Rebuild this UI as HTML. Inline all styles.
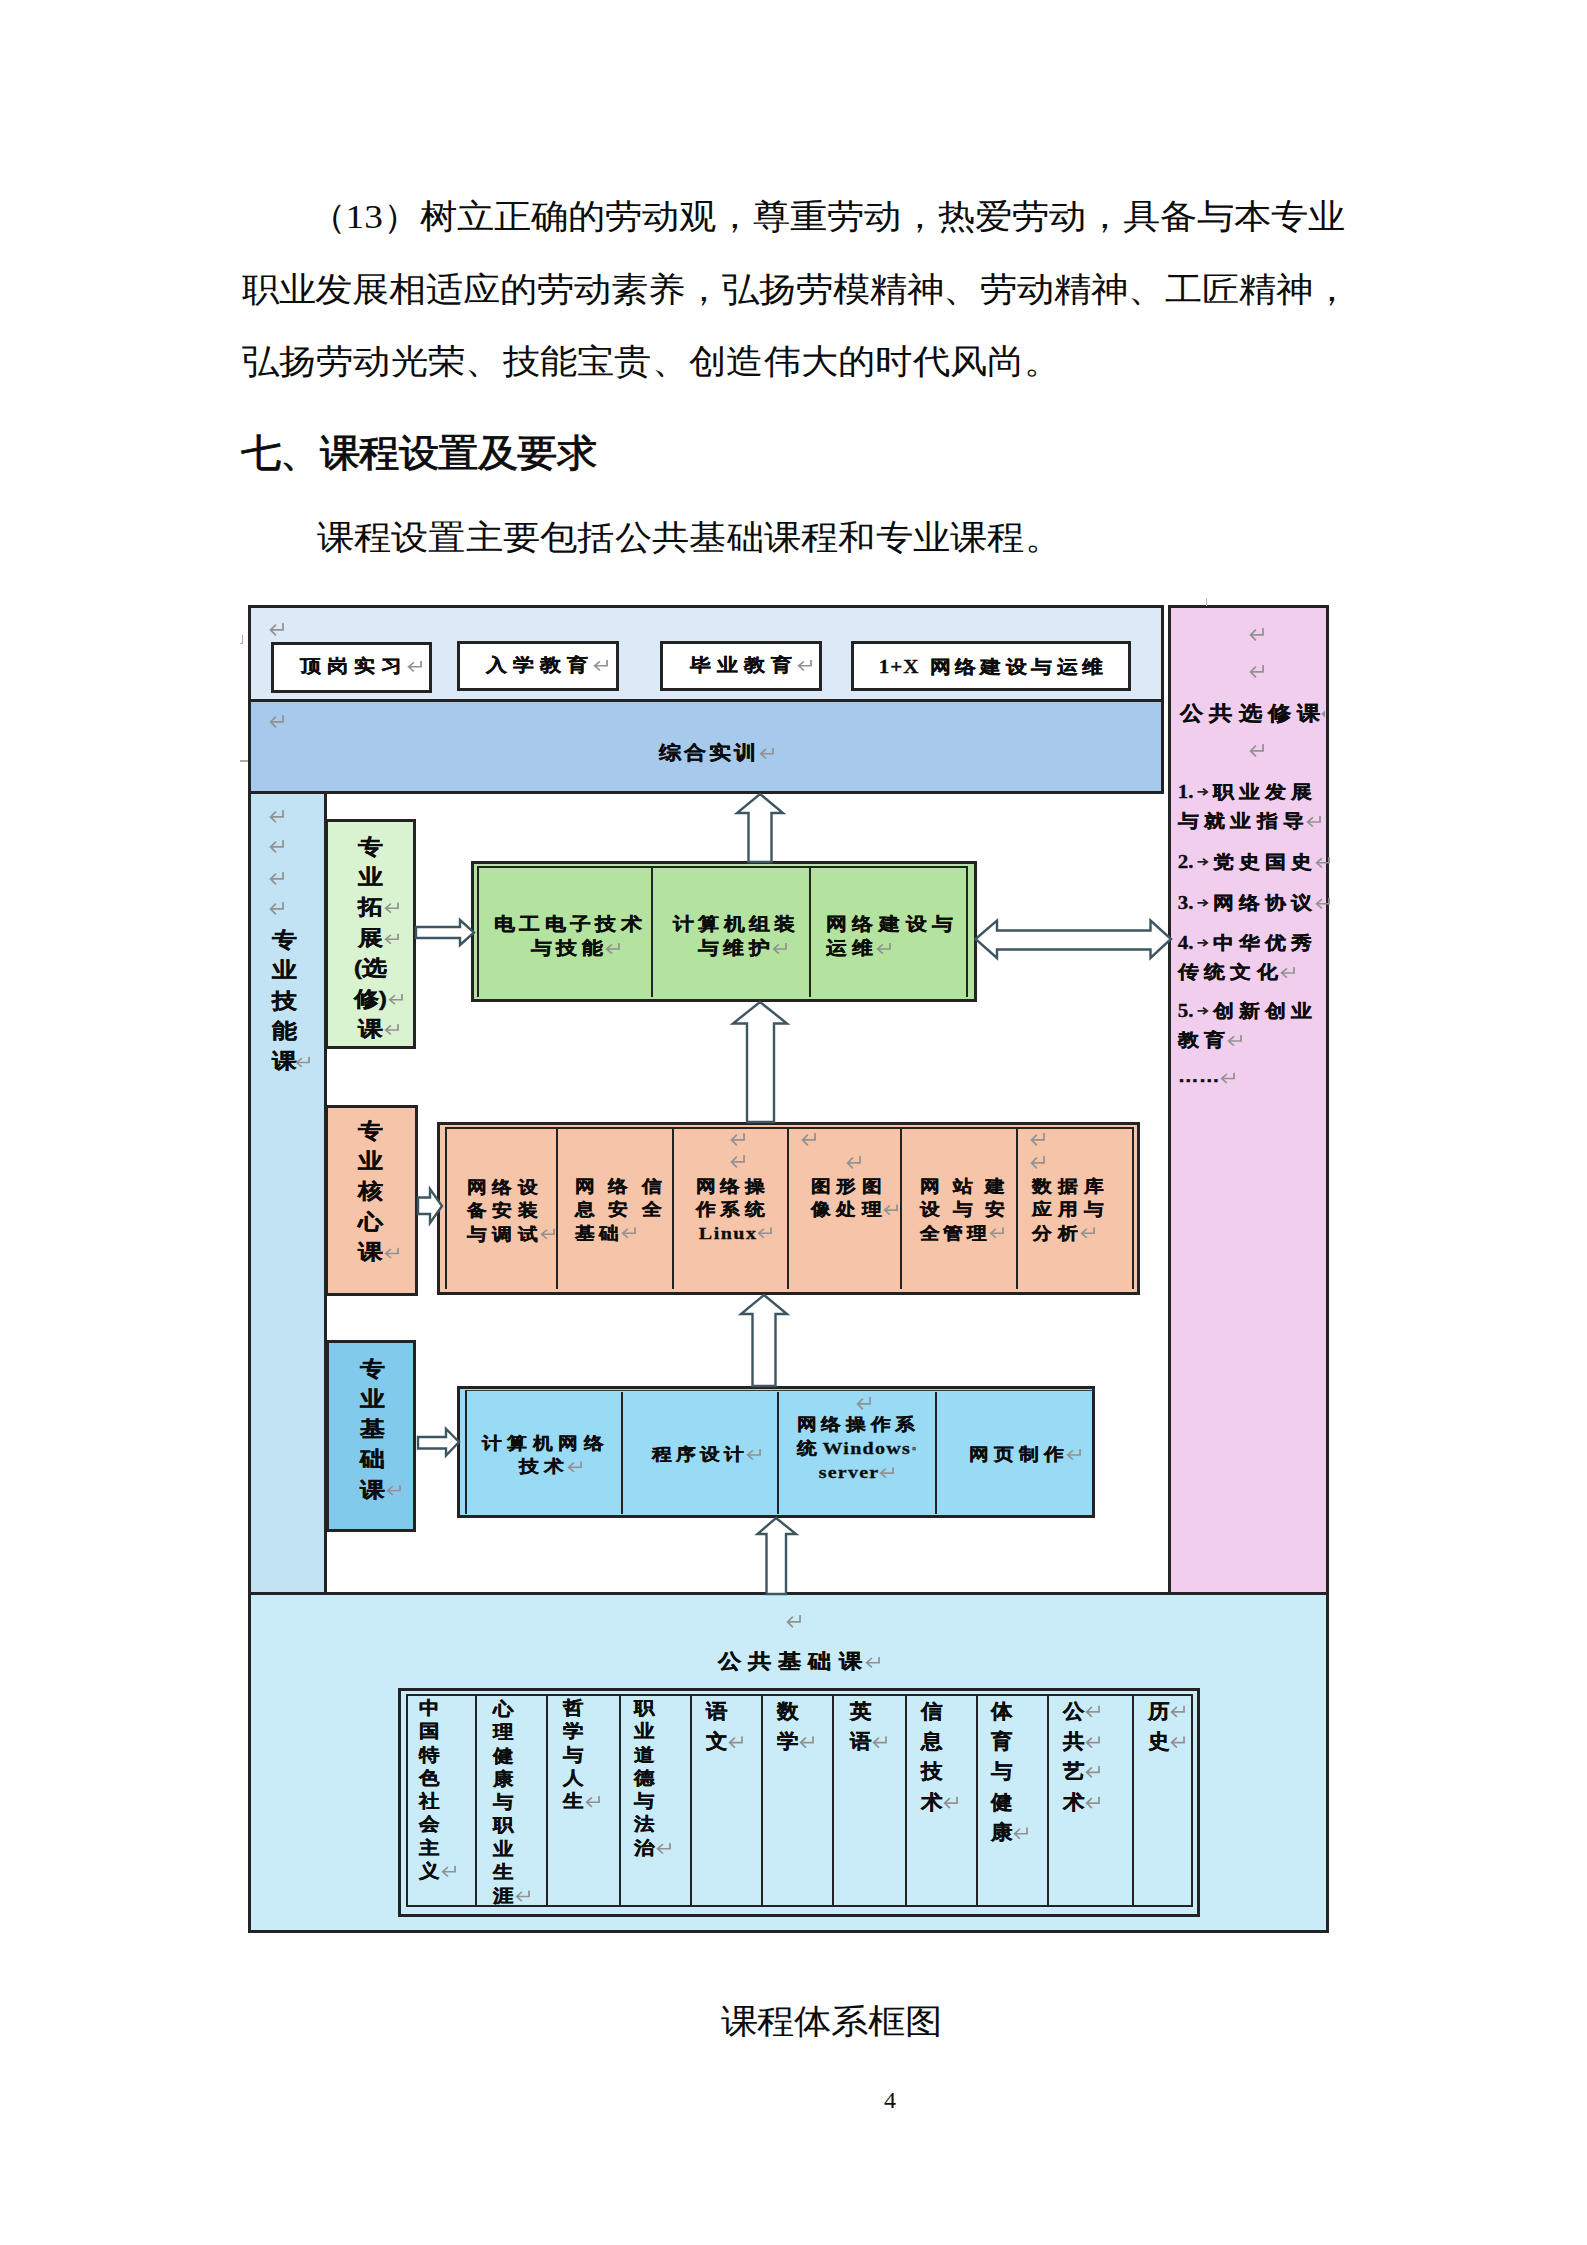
<!DOCTYPE html>
<html lang="zh"><head><meta charset="utf-8"><title>课程体系框图</title>
<style>
html,body{margin:0;padding:0;background:#fff}
body{width:1587px;height:2245px;position:relative;overflow:hidden;font-family:'Liberation Serif',serif}
.b{position:absolute;box-sizing:border-box}
.t{position:absolute;white-space:nowrap;font-weight:normal}
.bd{font-weight:bold;-webkit-text-stroke:0.35px #0c0c0c}
.rs{display:inline-block}
svg.arr{position:absolute;left:0;top:0}
</style></head><body>

<div class="t" style="left:241.6px;top:195.7px;font-size:37.33px;letter-spacing:0px;line-height:41.02px;font-family:'Liberation Serif',serif;color:#0c0c0c;transform:scaleY(0.91);transform-origin:0 20.51px;text-indent:67px">（13）树立正确的劳动观，尊重劳动，热爱劳动，具备与本专业</div>
<div class="t" style="left:241.6px;top:268.7px;font-size:37.33px;letter-spacing:-0.06px;line-height:41.02px;font-family:'Liberation Serif',serif;color:#0c0c0c;transform:scaleY(0.91);transform-origin:0 20.51px;">职业发展相适应的劳动素养，弘扬劳模精神、劳动精神、工匠精神，</div>
<div class="t" style="left:241.6px;top:340.7px;font-size:37.33px;letter-spacing:0.28px;line-height:41.02px;font-family:'Liberation Serif',serif;color:#0c0c0c;transform:scaleY(0.91);transform-origin:0 20.51px;">弘扬劳动光荣、技能宝贵、创造伟大的时代风尚。</div>
<div class="t" style="left:240.6px;top:431.5px;font-size:40px;letter-spacing:-0.45px;line-height:42.55px;font-family:'Liberation Sans',sans-serif;color:#0c0c0c;transform:scaleY(0.94);transform-origin:0 21.28px;-webkit-text-stroke:0.9px #0c0c0c">七、课程设置及要求</div>
<div class="t" style="left:316.6px;top:516.7px;font-size:37.33px;letter-spacing:0.27px;line-height:41.02px;font-family:'Liberation Serif',serif;color:#0c0c0c;transform:scaleY(0.91);transform-origin:0 20.51px;">课程设置主要包括公共基础课程和专业课程。</div>
<div class="b" style="left:248px;top:605px;width:916px;height:97px;background:#dce9f6;border:3px solid #232323;"></div>
<div class="b" style="left:248px;top:699px;width:916px;height:95px;background:#a7c9eb;border:3px solid #232323;"></div>
<div class="b" style="left:248px;top:791px;width:79px;height:804px;background:#c1e3f4;border:3px solid #232323;"></div>
<div class="b" style="left:1168px;top:605px;width:161px;height:991px;background:#f1cdee;border:3px solid #232323;"></div>
<div class="b" style="left:248px;top:1592px;width:1081px;height:341px;background:#caecf9;border:3px solid #232323;"></div>
<div class="b" style="left:1206px;top:598px;width:1px;height:8px;background:#bbb"></div>
<div class="b" style="left:240px;top:635px;width:3px;height:9px;border-right:1.5px solid #aaa;border-bottom:1.5px solid #aaa"></div>
<div class="b" style="left:240px;top:760px;width:8px;height:1.5px;background:#aaa"></div>
<div class="b" style="left:271px;top:642px;width:161px;height:51px;background:#fff;border:3px solid #232323;"></div>
<div class="b" style="left:457px;top:641px;width:162px;height:50px;background:#fff;border:3px solid #232323;"></div>
<div class="b" style="left:660px;top:641px;width:162px;height:50px;background:#fff;border:3px solid #232323;"></div>
<div class="b" style="left:851px;top:641px;width:280px;height:50px;background:#fff;border:3px solid #232323;"></div>
<div class="b" style="left:325px;top:819px;width:91px;height:230px;background:#d9f2d0;border:3px solid #232323;"></div>
<div class="b" style="left:325px;top:1105px;width:93px;height:191px;background:#f6c4a9;border:3px solid #232323;"></div>
<div class="b" style="left:326px;top:1340px;width:90px;height:192px;background:#82caeb;border:3px solid #232323;"></div>
<div class="b" style="left:471px;top:861px;width:506px;height:141px;background:#b3e39e;border:3px solid #232323;"></div>
<div class="b" style="left:477px;top:866px;width:491px;height:131px;border:2px solid #232323;border-bottom:0px solid #232323"></div>
<div class="b" style="left:651px;top:867px;width:2.2000000000000455px;height:130px;background:#232323"></div>
<div class="b" style="left:809px;top:867px;width:2.2000000000000455px;height:130px;background:#232323"></div>
<div class="b" style="left:437px;top:1122px;width:703px;height:173px;background:#f6c4a9;border:3px solid #232323;"></div>
<div class="b" style="left:445px;top:1127px;width:689px;height:162px;border:2px solid #232323;border-bottom:0px solid #232323"></div>
<div class="b" style="left:556px;top:1128px;width:2.2000000000000455px;height:161px;background:#232323"></div>
<div class="b" style="left:672px;top:1128px;width:2.2000000000000455px;height:161px;background:#232323"></div>
<div class="b" style="left:787px;top:1128px;width:2.2000000000000455px;height:161px;background:#232323"></div>
<div class="b" style="left:900px;top:1128px;width:2.2000000000000455px;height:161px;background:#232323"></div>
<div class="b" style="left:1016px;top:1128px;width:2.2000000000000455px;height:161px;background:#232323"></div>
<div class="b" style="left:457px;top:1386px;width:638px;height:132px;background:#99daf5;border:3px solid #232323;"></div>
<div class="b" style="left:465px;top:1390px;width:630px;height:124px;border-left:2px solid #232323;border-top:1.6px solid #2c3c44"></div>
<div class="b" style="left:620.5px;top:1392px;width:2.2000000000000455px;height:122px;background:#232323"></div>
<div class="b" style="left:777px;top:1392px;width:2.2000000000000455px;height:122px;background:#232323"></div>
<div class="b" style="left:935px;top:1392px;width:2.2000000000000455px;height:122px;background:#232323"></div>
<div class="b" style="left:398px;top:1688px;width:802px;height:229px;background:transparent;border:3px solid #232323;"></div>
<div class="b" style="left:406px;top:1694px;width:787px;height:213px;border:2px solid #232323;border-bottom:2px solid #232323"></div>
<div class="b" style="left:475px;top:1696px;width:2.1999999999999886px;height:209px;background:#232323"></div>
<div class="b" style="left:546px;top:1696px;width:2.2000000000000455px;height:209px;background:#232323"></div>
<div class="b" style="left:619px;top:1696px;width:2.2000000000000455px;height:209px;background:#232323"></div>
<div class="b" style="left:690px;top:1696px;width:2.2000000000000455px;height:209px;background:#232323"></div>
<div class="b" style="left:761px;top:1696px;width:2.2000000000000455px;height:209px;background:#232323"></div>
<div class="b" style="left:832px;top:1696px;width:2.2000000000000455px;height:209px;background:#232323"></div>
<div class="b" style="left:905px;top:1696px;width:2.2000000000000455px;height:209px;background:#232323"></div>
<div class="b" style="left:976px;top:1696px;width:2.2000000000000455px;height:209px;background:#232323"></div>
<div class="b" style="left:1047px;top:1696px;width:2.2000000000000455px;height:209px;background:#232323"></div>
<div class="b" style="left:1132px;top:1696px;width:2.2000000000000455px;height:209px;background:#232323"></div>
<svg class="arr" width="1587" height="2245" viewBox="0 0 1587 2245"><g fill="#fff" stroke="#3e5562" stroke-width="2.4" stroke-linejoin="miter"><path d="M760,794 L783,813 L771.5,813 L771.5,862 L748.5,862 L748.5,813 L737,813 Z"/><path d="M760,1002 L787,1023.5 L774,1023.5 L774,1122 L747,1122 L747,1023.5 L733,1023.5 Z"/><path d="M764,1295 L787,1314 L775.5,1314 L775.5,1386 L752.5,1386 L752.5,1314 L741,1314 Z"/><path d="M776,1518 L796,1534 L786,1534 L786,1594 L766.5,1594 L766.5,1534 L757.5,1534 Z"/><path d="M474,932.5 L460,945 L460,938 L416,938 L416,927 L460,927 L460,920 Z"/><path d="M442,1206 L430,1223 L430,1214 L418,1214 L418,1197.5 L430,1197.5 L430,1189 Z"/><path d="M459,1442 L446,1455.5 L446,1448.5 L418,1448.5 L418,1437 L446,1437 L446,1429 Z"/><path d="M975.5,939 L997,920.5 L997,930.5 L1150.5,930.5 L1150.5,920.5 L1171,939 L1150.5,958 L1150.5,949.5 L997,949.5 L997,958 Z"/></g></svg>
<div class="t bd" style="left:299.8px;top:654.1px;font-size:21px;letter-spacing:6px;line-height:24.42px;font-family:'Liberation Sans',sans-serif;color:#0c0c0c;transform:scaleY(0.86);transform-origin:0 12.21px;">顶岗实习<svg class="rs" viewBox="0 0 17 14" width="16.0" height="13.0" style="margin-left:-1px;vertical-align:0px"><path d="M15,0.8 V7.5 H1.6 M6.8,2.3 L1.6,7.5 L6.8,12.7" stroke="#929292" stroke-width="1.90" fill="none" stroke-linecap="round"/></svg></div>
<div class="t bd" style="left:485.8px;top:652.6px;font-size:21px;letter-spacing:6px;line-height:24.42px;font-family:'Liberation Sans',sans-serif;color:#0c0c0c;transform:scaleY(0.86);transform-origin:0 12.21px;">入学教育<svg class="rs" viewBox="0 0 17 14" width="16.0" height="13.0" style="margin-left:-1px;vertical-align:0px"><path d="M15,0.8 V7.5 H1.6 M6.8,2.3 L1.6,7.5 L6.8,12.7" stroke="#929292" stroke-width="1.90" fill="none" stroke-linecap="round"/></svg></div>
<div class="t bd" style="left:689.8px;top:652.6px;font-size:21px;letter-spacing:6px;line-height:24.42px;font-family:'Liberation Sans',sans-serif;color:#0c0c0c;transform:scaleY(0.86);transform-origin:0 12.21px;">毕业教育<svg class="rs" viewBox="0 0 17 14" width="16.0" height="13.0" style="margin-left:-1px;vertical-align:0px"><path d="M15,0.8 V7.5 H1.6 M6.8,2.3 L1.6,7.5 L6.8,12.7" stroke="#929292" stroke-width="1.90" fill="none" stroke-linecap="round"/></svg></div>
<div class="t bd" style="left:878.8px;top:654.6px;font-size:21px;letter-spacing:4.4px;line-height:24.42px;font-family:'Liberation Sans',sans-serif;color:#0c0c0c;transform:scaleY(0.86);transform-origin:0 12.21px;"><span style="font-family:'Liberation Serif',serif;letter-spacing:1px">1+X</span> 网络建设与运维</div>
<div class="t bd" style="left:658.8px;top:739.9px;font-size:22px;letter-spacing:3px;line-height:25.58px;font-family:'Liberation Sans',sans-serif;color:#0c0c0c;transform:scaleY(0.86);transform-origin:0 12.79px;">综合实训<svg class="rs" viewBox="0 0 17 14" width="16.0" height="13.0" style="margin-left:0px;vertical-align:0px"><path d="M15,0.8 V7.5 H1.6 M6.8,2.3 L1.6,7.5 L6.8,12.7" stroke="#929292" stroke-width="1.90" fill="none" stroke-linecap="round"/></svg></div>
<svg class="rs" viewBox="0 0 17 14" width="16.0" height="13.0" style="position:absolute;left:269px;top:623px"><path d="M15,0.8 V7.5 H1.6 M6.8,2.3 L1.6,7.5 L6.8,12.7" stroke="#929292" stroke-width="1.9" fill="none" stroke-linecap="round"/></svg>
<svg class="rs" viewBox="0 0 17 14" width="16.0" height="13.0" style="position:absolute;left:269px;top:715px"><path d="M15,0.8 V7.5 H1.6 M6.8,2.3 L1.6,7.5 L6.8,12.7" stroke="#929292" stroke-width="1.9" fill="none" stroke-linecap="round"/></svg>
<svg class="rs" viewBox="0 0 17 14" width="16.0" height="13.0" style="position:absolute;left:269px;top:810px"><path d="M15,0.8 V7.5 H1.6 M6.8,2.3 L1.6,7.5 L6.8,12.7" stroke="#929292" stroke-width="1.9" fill="none" stroke-linecap="round"/></svg>
<svg class="rs" viewBox="0 0 17 14" width="16.0" height="13.0" style="position:absolute;left:269px;top:840px"><path d="M15,0.8 V7.5 H1.6 M6.8,2.3 L1.6,7.5 L6.8,12.7" stroke="#929292" stroke-width="1.9" fill="none" stroke-linecap="round"/></svg>
<svg class="rs" viewBox="0 0 17 14" width="16.0" height="13.0" style="position:absolute;left:269px;top:872px"><path d="M15,0.8 V7.5 H1.6 M6.8,2.3 L1.6,7.5 L6.8,12.7" stroke="#929292" stroke-width="1.9" fill="none" stroke-linecap="round"/></svg>
<svg class="rs" viewBox="0 0 17 14" width="16.0" height="13.0" style="position:absolute;left:269px;top:902px"><path d="M15,0.8 V7.5 H1.6 M6.8,2.3 L1.6,7.5 L6.8,12.7" stroke="#929292" stroke-width="1.9" fill="none" stroke-linecap="round"/></svg>
<div class="t bd" style="left:271.8px;top:921.3px;font-size:25px;letter-spacing:0px;line-height:36.31px;font-family:'Liberation Sans',sans-serif;color:#0c0c0c;transform:scaleY(0.84);transform-origin:0 18.15px;">专<br>业<br>技<br>能<br>课<svg class="rs" viewBox="0 0 17 14" width="16.0" height="13.0" style="margin-left:-2px;vertical-align:1px"><path d="M15,0.8 V7.5 H1.6 M6.8,2.3 L1.6,7.5 L6.8,12.7" stroke="#929292" stroke-width="1.90" fill="none" stroke-linecap="round"/></svg></div>
<div class="t bd" style="left:357.8px;top:828.4px;font-size:25px;letter-spacing:0px;line-height:36.19px;font-family:'Liberation Sans',sans-serif;color:#0c0c0c;transform:scaleY(0.84);transform-origin:0 18.10px;">专<br>业<br>拓<svg class="rs" viewBox="0 0 17 14" width="16.0" height="13.0" style="margin-left:1px;vertical-align:1px"><path d="M15,0.8 V7.5 H1.6 M6.8,2.3 L1.6,7.5 L6.8,12.7" stroke="#929292" stroke-width="1.90" fill="none" stroke-linecap="round"/></svg><br>展<svg class="rs" viewBox="0 0 17 14" width="16.0" height="13.0" style="margin-left:1px;vertical-align:1px"><path d="M15,0.8 V7.5 H1.6 M6.8,2.3 L1.6,7.5 L6.8,12.7" stroke="#929292" stroke-width="1.90" fill="none" stroke-linecap="round"/></svg><br><span style="margin-left:-4px">(选</span><br><span style="margin-left:-4px">修)</span><svg class="rs" viewBox="0 0 17 14" width="16.0" height="13.0" style="margin-left:1px;vertical-align:1px"><path d="M15,0.8 V7.5 H1.6 M6.8,2.3 L1.6,7.5 L6.8,12.7" stroke="#929292" stroke-width="1.90" fill="none" stroke-linecap="round"/></svg><br>课<svg class="rs" viewBox="0 0 17 14" width="16.0" height="13.0" style="margin-left:1px;vertical-align:1px"><path d="M15,0.8 V7.5 H1.6 M6.8,2.3 L1.6,7.5 L6.8,12.7" stroke="#929292" stroke-width="1.90" fill="none" stroke-linecap="round"/></svg></div>
<div class="t bd" style="left:357.8px;top:1112.4px;font-size:25px;letter-spacing:0px;line-height:36.19px;font-family:'Liberation Sans',sans-serif;color:#0c0c0c;transform:scaleY(0.84);transform-origin:0 18.10px;">专<br>业<br>核<br>心<br>课<svg class="rs" viewBox="0 0 17 14" width="16.0" height="13.0" style="margin-left:1px;vertical-align:1px"><path d="M15,0.8 V7.5 H1.6 M6.8,2.3 L1.6,7.5 L6.8,12.7" stroke="#929292" stroke-width="1.90" fill="none" stroke-linecap="round"/></svg></div>
<div class="t bd" style="left:359.8px;top:1349.5px;font-size:25px;letter-spacing:0px;line-height:36.07px;font-family:'Liberation Sans',sans-serif;color:#0c0c0c;transform:scaleY(0.84);transform-origin:0 18.04px;">专<br>业<br>基<br>础<br>课<svg class="rs" viewBox="0 0 17 14" width="16.0" height="13.0" style="margin-left:1px;vertical-align:1px"><path d="M15,0.8 V7.5 H1.6 M6.8,2.3 L1.6,7.5 L6.8,12.7" stroke="#929292" stroke-width="1.90" fill="none" stroke-linecap="round"/></svg></div>
<div class="t bd" style="left:493.8px;top:909.6px;font-size:21px;letter-spacing:4.4px;line-height:28.49px;font-family:'Liberation Sans',sans-serif;color:#0c0c0c;transform:scaleY(0.86);transform-origin:0 14.24px;">电工电子技术<br><span style="padding-left:37px">与技能<svg class="rs" viewBox="0 0 17 14" width="16.0" height="13.0" style="margin-left:-2px;vertical-align:0px"><path d="M15,0.8 V7.5 H1.6 M6.8,2.3 L1.6,7.5 L6.8,12.7" stroke="#929292" stroke-width="1.90" fill="none" stroke-linecap="round"/></svg></span></div>
<div class="t bd" style="left:672.8px;top:909.6px;font-size:21px;letter-spacing:4.4px;line-height:28.49px;font-family:'Liberation Sans',sans-serif;color:#0c0c0c;transform:scaleY(0.86);transform-origin:0 14.24px;">计算机组装<br><span style="padding-left:25px">与维护<svg class="rs" viewBox="0 0 17 14" width="16.0" height="13.0" style="margin-left:-2px;vertical-align:0px"><path d="M15,0.8 V7.5 H1.6 M6.8,2.3 L1.6,7.5 L6.8,12.7" stroke="#929292" stroke-width="1.90" fill="none" stroke-linecap="round"/></svg></span></div>
<div class="t bd" style="left:825.8px;top:909.6px;font-size:21px;letter-spacing:5.6px;line-height:28.49px;font-family:'Liberation Sans',sans-serif;color:#0c0c0c;transform:scaleY(0.86);transform-origin:0 14.24px;">网络建设与<br>运维<svg class="rs" viewBox="0 0 17 14" width="16.0" height="13.0" style="margin-left:-3px;vertical-align:0px"><path d="M15,0.8 V7.5 H1.6 M6.8,2.3 L1.6,7.5 L6.8,12.7" stroke="#929292" stroke-width="1.90" fill="none" stroke-linecap="round"/></svg></div>
<svg class="rs" viewBox="0 0 17 14" width="16.0" height="13.0" style="position:absolute;left:1249px;top:628px"><path d="M15,0.8 V7.5 H1.6 M6.8,2.3 L1.6,7.5 L6.8,12.7" stroke="#929292" stroke-width="1.9" fill="none" stroke-linecap="round"/></svg>
<svg class="rs" viewBox="0 0 17 14" width="16.0" height="13.0" style="position:absolute;left:1249px;top:665px"><path d="M15,0.8 V7.5 H1.6 M6.8,2.3 L1.6,7.5 L6.8,12.7" stroke="#929292" stroke-width="1.9" fill="none" stroke-linecap="round"/></svg>
<div class="t bd" style="left:1179.8px;top:700.3px;font-size:23px;letter-spacing:6.4px;line-height:26.74px;font-family:'Liberation Sans',sans-serif;color:#0c0c0c;transform:scaleY(0.86);transform-origin:0 13.37px;">公共选修课</div>
<div class="b" style="left:1321px;top:706px;width:4px;height:14px;overflow:hidden"><svg class="rs" viewBox="0 0 17 14" width="16.0" height="13.0" style="margin-left:0px;vertical-align:0px"><path d="M15,0.8 V7.5 H1.6 M6.8,2.3 L1.6,7.5 L6.8,12.7" stroke="#929292" stroke-width="1.90" fill="none" stroke-linecap="round"/></svg></div>
<svg class="rs" viewBox="0 0 17 14" width="16.0" height="13.0" style="position:absolute;left:1249px;top:744px"><path d="M15,0.8 V7.5 H1.6 M6.8,2.3 L1.6,7.5 L6.8,12.7" stroke="#929292" stroke-width="1.9" fill="none" stroke-linecap="round"/></svg>
<div class="t bd" style="left:1177.8px;top:775.3px;font-size:21px;letter-spacing:5.3px;line-height:33.14px;font-family:'Liberation Sans',sans-serif;color:#0c0c0c;transform:scaleY(0.86);transform-origin:0 16.57px;"><span style="font-family:'Liberation Serif',serif;letter-spacing:0px">1.</span><svg class="rs" width="12" height="10" viewBox="0 0 12 10" style="margin:0 4px 0 3px;vertical-align:2px"><path d="M0.5,5 H10 M6,1.2 L10.2,5 L6,8.8" stroke="#222" stroke-width="2" fill="none"/></svg>职业发展<br>与就业指导<svg class="rs" viewBox="0 0 17 14" width="16.0" height="13.0" style="margin-left:-3px;vertical-align:0px"><path d="M15,0.8 V7.5 H1.6 M6.8,2.3 L1.6,7.5 L6.8,12.7" stroke="#929292" stroke-width="1.90" fill="none" stroke-linecap="round"/></svg></div>
<div class="t bd" style="left:1177.8px;top:845.3px;font-size:21px;letter-spacing:5.3px;line-height:33.14px;font-family:'Liberation Sans',sans-serif;color:#0c0c0c;transform:scaleY(0.86);transform-origin:0 16.57px;"><span style="font-family:'Liberation Serif',serif;letter-spacing:0px">2.</span><svg class="rs" width="12" height="10" viewBox="0 0 12 10" style="margin:0 4px 0 3px;vertical-align:2px"><path d="M0.5,5 H10 M6,1.2 L10.2,5 L6,8.8" stroke="#222" stroke-width="2" fill="none"/></svg>党史国史<svg class="rs" viewBox="0 0 17 14" width="16.0" height="13.0" style="margin-left:-3px;vertical-align:0px"><path d="M15,0.8 V7.5 H1.6 M6.8,2.3 L1.6,7.5 L6.8,12.7" stroke="#929292" stroke-width="1.90" fill="none" stroke-linecap="round"/></svg></div>
<div class="t bd" style="left:1177.8px;top:886.3px;font-size:21px;letter-spacing:5.3px;line-height:33.14px;font-family:'Liberation Sans',sans-serif;color:#0c0c0c;transform:scaleY(0.86);transform-origin:0 16.57px;"><span style="font-family:'Liberation Serif',serif;letter-spacing:0px">3.</span><svg class="rs" width="12" height="10" viewBox="0 0 12 10" style="margin:0 4px 0 3px;vertical-align:2px"><path d="M0.5,5 H10 M6,1.2 L10.2,5 L6,8.8" stroke="#222" stroke-width="2" fill="none"/></svg>网络协议<svg class="rs" viewBox="0 0 17 14" width="16.0" height="13.0" style="margin-left:-3px;vertical-align:0px"><path d="M15,0.8 V7.5 H1.6 M6.8,2.3 L1.6,7.5 L6.8,12.7" stroke="#929292" stroke-width="1.90" fill="none" stroke-linecap="round"/></svg></div>
<div class="t bd" style="left:1177.8px;top:926.3px;font-size:21px;letter-spacing:5.3px;line-height:33.14px;font-family:'Liberation Sans',sans-serif;color:#0c0c0c;transform:scaleY(0.86);transform-origin:0 16.57px;"><span style="font-family:'Liberation Serif',serif;letter-spacing:0px">4.</span><svg class="rs" width="12" height="10" viewBox="0 0 12 10" style="margin:0 4px 0 3px;vertical-align:2px"><path d="M0.5,5 H10 M6,1.2 L10.2,5 L6,8.8" stroke="#222" stroke-width="2" fill="none"/></svg>中华优秀<br>传统文化<svg class="rs" viewBox="0 0 17 14" width="16.0" height="13.0" style="margin-left:-3px;vertical-align:0px"><path d="M15,0.8 V7.5 H1.6 M6.8,2.3 L1.6,7.5 L6.8,12.7" stroke="#929292" stroke-width="1.90" fill="none" stroke-linecap="round"/></svg></div>
<div class="t bd" style="left:1177.8px;top:994.3px;font-size:21px;letter-spacing:5.3px;line-height:33.14px;font-family:'Liberation Sans',sans-serif;color:#0c0c0c;transform:scaleY(0.86);transform-origin:0 16.57px;"><span style="font-family:'Liberation Serif',serif;letter-spacing:0px">5.</span><svg class="rs" width="12" height="10" viewBox="0 0 12 10" style="margin:0 4px 0 3px;vertical-align:2px"><path d="M0.5,5 H10 M6,1.2 L10.2,5 L6,8.8" stroke="#222" stroke-width="2" fill="none"/></svg>创新创业<br>教育<svg class="rs" viewBox="0 0 17 14" width="16.0" height="13.0" style="margin-left:-3px;vertical-align:0px"><path d="M15,0.8 V7.5 H1.6 M6.8,2.3 L1.6,7.5 L6.8,12.7" stroke="#929292" stroke-width="1.90" fill="none" stroke-linecap="round"/></svg></div>
<div class="t bd" style="left:1177.8px;top:1063.6px;font-size:21px;letter-spacing:0px;line-height:24.42px;font-family:'Liberation Sans',sans-serif;color:#0c0c0c;transform:scaleY(0.86);transform-origin:0 12.21px;">……<svg class="rs" viewBox="0 0 17 14" width="16.0" height="13.0" style="margin-left:0px;vertical-align:-2px"><path d="M15,0.8 V7.5 H1.6 M6.8,2.3 L1.6,7.5 L6.8,12.7" stroke="#929292" stroke-width="1.90" fill="none" stroke-linecap="round"/></svg></div>
<div class="t bd" style="left:466.8px;top:1173.9px;font-size:20px;letter-spacing:5.6px;line-height:26.98px;font-family:'Liberation Sans',sans-serif;color:#0c0c0c;transform:scaleY(0.86);transform-origin:0 13.49px;">网络设<br>备安装<br>与调试<svg class="rs" viewBox="0 0 17 14" width="16.0" height="13.0" style="margin-left:-4px;vertical-align:0px"><path d="M15,0.8 V7.5 H1.6 M6.8,2.3 L1.6,7.5 L6.8,12.7" stroke="#929292" stroke-width="1.90" fill="none" stroke-linecap="round"/></svg></div>
<div class="t bd" style="left:574.8px;top:1172.9px;font-size:20px;letter-spacing:4px;line-height:26.98px;font-family:'Liberation Sans',sans-serif;color:#0c0c0c;transform:scaleY(0.86);transform-origin:0 13.49px;">网 络 信<br>息 安 全<br>基础<svg class="rs" viewBox="0 0 17 14" width="16.0" height="13.0" style="margin-left:-2px;vertical-align:0px"><path d="M15,0.8 V7.5 H1.6 M6.8,2.3 L1.6,7.5 L6.8,12.7" stroke="#929292" stroke-width="1.90" fill="none" stroke-linecap="round"/></svg></div>
<svg class="rs" viewBox="0 0 17 14" width="16.0" height="13.0" style="position:absolute;left:730px;top:1133px"><path d="M15,0.8 V7.5 H1.6 M6.8,2.3 L1.6,7.5 L6.8,12.7" stroke="#929292" stroke-width="1.9" fill="none" stroke-linecap="round"/></svg>
<svg class="rs" viewBox="0 0 17 14" width="16.0" height="13.0" style="position:absolute;left:730px;top:1155px"><path d="M15,0.8 V7.5 H1.6 M6.8,2.3 L1.6,7.5 L6.8,12.7" stroke="#929292" stroke-width="1.9" fill="none" stroke-linecap="round"/></svg>
<div class="t bd" style="left:695.8px;top:1172.9px;font-size:20px;letter-spacing:4.4px;line-height:26.98px;font-family:'Liberation Sans',sans-serif;color:#0c0c0c;transform:scaleY(0.86);transform-origin:0 13.49px;">网络操<br>作系统<br><span style="padding-left:3px"><span style="font-family:'Liberation Serif',serif;letter-spacing:1.5px">Linux</span></span><svg class="rs" viewBox="0 0 17 14" width="16.0" height="13.0" style="margin-left:0px;vertical-align:0px"><path d="M15,0.8 V7.5 H1.6 M6.8,2.3 L1.6,7.5 L6.8,12.7" stroke="#929292" stroke-width="1.90" fill="none" stroke-linecap="round"/></svg></div>
<svg class="rs" viewBox="0 0 17 14" width="16.0" height="13.0" style="position:absolute;left:801px;top:1133px"><path d="M15,0.8 V7.5 H1.6 M6.8,2.3 L1.6,7.5 L6.8,12.7" stroke="#929292" stroke-width="1.9" fill="none" stroke-linecap="round"/></svg>
<svg class="rs" viewBox="0 0 17 14" width="16.0" height="13.0" style="position:absolute;left:846px;top:1156px"><path d="M15,0.8 V7.5 H1.6 M6.8,2.3 L1.6,7.5 L6.8,12.7" stroke="#929292" stroke-width="1.9" fill="none" stroke-linecap="round"/></svg>
<div class="t bd" style="left:810.8px;top:1172.9px;font-size:20px;letter-spacing:5.5px;line-height:26.98px;font-family:'Liberation Sans',sans-serif;color:#0c0c0c;transform:scaleY(0.86);transform-origin:0 13.49px;">图形图<br>像处理<svg class="rs" viewBox="0 0 17 14" width="16.0" height="13.0" style="margin-left:-4px;vertical-align:0px"><path d="M15,0.8 V7.5 H1.6 M6.8,2.3 L1.6,7.5 L6.8,12.7" stroke="#929292" stroke-width="1.90" fill="none" stroke-linecap="round"/></svg></div>
<div class="t bd" style="left:919.8px;top:1172.9px;font-size:20px;letter-spacing:3.6px;line-height:26.98px;font-family:'Liberation Sans',sans-serif;color:#0c0c0c;transform:scaleY(0.86);transform-origin:0 13.49px;">网 站 建<br>设 与 安<br>全管理<svg class="rs" viewBox="0 0 17 14" width="16.0" height="13.0" style="margin-left:-2px;vertical-align:0px"><path d="M15,0.8 V7.5 H1.6 M6.8,2.3 L1.6,7.5 L6.8,12.7" stroke="#929292" stroke-width="1.90" fill="none" stroke-linecap="round"/></svg></div>
<svg class="rs" viewBox="0 0 17 14" width="16.0" height="13.0" style="position:absolute;left:1030px;top:1133px"><path d="M15,0.8 V7.5 H1.6 M6.8,2.3 L1.6,7.5 L6.8,12.7" stroke="#929292" stroke-width="1.9" fill="none" stroke-linecap="round"/></svg>
<svg class="rs" viewBox="0 0 17 14" width="16.0" height="13.0" style="position:absolute;left:1030px;top:1156px"><path d="M15,0.8 V7.5 H1.6 M6.8,2.3 L1.6,7.5 L6.8,12.7" stroke="#929292" stroke-width="1.9" fill="none" stroke-linecap="round"/></svg>
<div class="t bd" style="left:1031.8px;top:1172.9px;font-size:20px;letter-spacing:6px;line-height:26.98px;font-family:'Liberation Sans',sans-serif;color:#0c0c0c;transform:scaleY(0.86);transform-origin:0 13.49px;">数据库<br>应用与<br>分析<svg class="rs" viewBox="0 0 17 14" width="16.0" height="13.0" style="margin-left:-4px;vertical-align:0px"><path d="M15,0.8 V7.5 H1.6 M6.8,2.3 L1.6,7.5 L6.8,12.7" stroke="#929292" stroke-width="1.90" fill="none" stroke-linecap="round"/></svg></div>
<div class="t bd" style="left:481.8px;top:1429.7px;font-size:20px;letter-spacing:5.5px;line-height:27.33px;font-family:'Liberation Sans',sans-serif;color:#0c0c0c;transform:scaleY(0.86);transform-origin:0 13.66px;">计算机网络<br><span style="padding-left:37px">技术<svg class="rs" viewBox="0 0 17 14" width="16.0" height="13.0" style="margin-left:-3px;vertical-align:0px"><path d="M15,0.8 V7.5 H1.6 M6.8,2.3 L1.6,7.5 L6.8,12.7" stroke="#929292" stroke-width="1.90" fill="none" stroke-linecap="round"/></svg></span></div>
<div class="t bd" style="left:651.8px;top:1442.8px;font-size:20px;letter-spacing:4.2px;line-height:23.26px;font-family:'Liberation Sans',sans-serif;color:#0c0c0c;transform:scaleY(0.86);transform-origin:0 11.63px;">程序设计<svg class="rs" viewBox="0 0 17 14" width="16.0" height="13.0" style="margin-left:-3px;vertical-align:0px"><path d="M15,0.8 V7.5 H1.6 M6.8,2.3 L1.6,7.5 L6.8,12.7" stroke="#929292" stroke-width="1.90" fill="none" stroke-linecap="round"/></svg></div>
<svg class="rs" viewBox="0 0 17 14" width="16.0" height="13.0" style="position:absolute;left:856px;top:1397px"><path d="M15,0.8 V7.5 H1.6 M6.8,2.3 L1.6,7.5 L6.8,12.7" stroke="#929292" stroke-width="1.9" fill="none" stroke-linecap="round"/></svg>
<div class="t bd" style="left:796.8px;top:1411.4px;font-size:20px;letter-spacing:4.6px;line-height:27.91px;font-family:'Liberation Sans',sans-serif;color:#0c0c0c;transform:scaleY(0.86);transform-origin:0 13.95px;">网络操作系<br>统<span style="margin-left:1px"></span><span style="font-family:'Liberation Serif',serif;letter-spacing:1.3px">Windows</span><span style="color:#777;letter-spacing:0">·</span><br><span style="padding-left:22px"><span style="font-family:'Liberation Serif',serif;letter-spacing:1.2px">server</span><svg class="rs" viewBox="0 0 17 14" width="16.0" height="13.0" style="margin-left:0px;vertical-align:0px"><path d="M15,0.8 V7.5 H1.6 M6.8,2.3 L1.6,7.5 L6.8,12.7" stroke="#929292" stroke-width="1.90" fill="none" stroke-linecap="round"/></svg></span></div>
<div class="t bd" style="left:968.8px;top:1442.8px;font-size:20px;letter-spacing:5px;line-height:23.26px;font-family:'Liberation Sans',sans-serif;color:#0c0c0c;transform:scaleY(0.86);transform-origin:0 11.63px;">网页制作<svg class="rs" viewBox="0 0 17 14" width="16.0" height="13.0" style="margin-left:-3px;vertical-align:0px"><path d="M15,0.8 V7.5 H1.6 M6.8,2.3 L1.6,7.5 L6.8,12.7" stroke="#929292" stroke-width="1.90" fill="none" stroke-linecap="round"/></svg></div>
<svg class="rs" viewBox="0 0 17 14" width="16.0" height="13.0" style="position:absolute;left:786px;top:1615px"><path d="M15,0.8 V7.5 H1.6 M6.8,2.3 L1.6,7.5 L6.8,12.7" stroke="#929292" stroke-width="1.9" fill="none" stroke-linecap="round"/></svg>
<div class="t bd" style="left:717.8px;top:1648.3px;font-size:23px;letter-spacing:7.2px;line-height:26.74px;font-family:'Liberation Sans',sans-serif;color:#0c0c0c;transform:scaleY(0.86);transform-origin:0 13.37px;">公共基础课<svg class="rs" viewBox="0 0 17 14" width="16.0" height="13.0" style="margin-left:-4px;vertical-align:0px"><path d="M15,0.8 V7.5 H1.6 M6.8,2.3 L1.6,7.5 L6.8,12.7" stroke="#929292" stroke-width="1.90" fill="none" stroke-linecap="round"/></svg></div>
<div class="t bd" style="left:418.8px;top:1694.6px;font-size:21px;letter-spacing:0px;line-height:26.48px;font-family:'Liberation Sans',sans-serif;color:#0c0c0c;transform:scaleY(0.88);transform-origin:0 13.24px;">中<br>国<br>特<br>色<br>社<br>会<br>主<br>义<svg class="rs" viewBox="0 0 17 14" width="16.0" height="13.0" style="margin-left:1px;vertical-align:0px"><path d="M15,0.8 V7.5 H1.6 M6.8,2.3 L1.6,7.5 L6.8,12.7" stroke="#929292" stroke-width="1.90" fill="none" stroke-linecap="round"/></svg></div>
<div class="t bd" style="left:492.8px;top:1695.6px;font-size:21px;letter-spacing:0px;line-height:26.48px;font-family:'Liberation Sans',sans-serif;color:#0c0c0c;transform:scaleY(0.88);transform-origin:0 13.24px;">心<br>理<br>健<br>康<br>与<br>职<br>业<br>生<br>涯<svg class="rs" viewBox="0 0 17 14" width="16.0" height="13.0" style="margin-left:1px;vertical-align:0px"><path d="M15,0.8 V7.5 H1.6 M6.8,2.3 L1.6,7.5 L6.8,12.7" stroke="#929292" stroke-width="1.90" fill="none" stroke-linecap="round"/></svg></div>
<div class="t bd" style="left:562.8px;top:1694.6px;font-size:21px;letter-spacing:0px;line-height:26.48px;font-family:'Liberation Sans',sans-serif;color:#0c0c0c;transform:scaleY(0.88);transform-origin:0 13.24px;">哲<br>学<br>与<br>人<br>生<svg class="rs" viewBox="0 0 17 14" width="16.0" height="13.0" style="margin-left:1px;vertical-align:0px"><path d="M15,0.8 V7.5 H1.6 M6.8,2.3 L1.6,7.5 L6.8,12.7" stroke="#929292" stroke-width="1.90" fill="none" stroke-linecap="round"/></svg></div>
<div class="t bd" style="left:633.8px;top:1694.6px;font-size:21px;letter-spacing:0px;line-height:26.48px;font-family:'Liberation Sans',sans-serif;color:#0c0c0c;transform:scaleY(0.88);transform-origin:0 13.24px;">职<br>业<br>道<br>德<br>与<br>法<br>治<svg class="rs" viewBox="0 0 17 14" width="16.0" height="13.0" style="margin-left:1px;vertical-align:0px"><path d="M15,0.8 V7.5 H1.6 M6.8,2.3 L1.6,7.5 L6.8,12.7" stroke="#929292" stroke-width="1.90" fill="none" stroke-linecap="round"/></svg></div>
<div class="t bd" style="left:705.8px;top:1694.5px;font-size:21px;letter-spacing:0px;line-height:32.69px;font-family:'Liberation Sans',sans-serif;color:#0c0c0c;transform:scaleY(0.93);transform-origin:0 16.34px;">语<br>文<svg class="rs" viewBox="0 0 17 14" width="16.0" height="13.0" style="margin-left:1px;vertical-align:0px"><path d="M15,0.8 V7.5 H1.6 M6.8,2.3 L1.6,7.5 L6.8,12.7" stroke="#929292" stroke-width="1.90" fill="none" stroke-linecap="round"/></svg></div>
<div class="t bd" style="left:776.8px;top:1694.5px;font-size:21px;letter-spacing:0px;line-height:32.69px;font-family:'Liberation Sans',sans-serif;color:#0c0c0c;transform:scaleY(0.93);transform-origin:0 16.34px;">数<br>学<svg class="rs" viewBox="0 0 17 14" width="16.0" height="13.0" style="margin-left:1px;vertical-align:0px"><path d="M15,0.8 V7.5 H1.6 M6.8,2.3 L1.6,7.5 L6.8,12.7" stroke="#929292" stroke-width="1.90" fill="none" stroke-linecap="round"/></svg></div>
<div class="t bd" style="left:849.8px;top:1694.5px;font-size:21px;letter-spacing:0px;line-height:32.69px;font-family:'Liberation Sans',sans-serif;color:#0c0c0c;transform:scaleY(0.93);transform-origin:0 16.34px;">英<br>语<svg class="rs" viewBox="0 0 17 14" width="16.0" height="13.0" style="margin-left:1px;vertical-align:0px"><path d="M15,0.8 V7.5 H1.6 M6.8,2.3 L1.6,7.5 L6.8,12.7" stroke="#929292" stroke-width="1.90" fill="none" stroke-linecap="round"/></svg></div>
<div class="t bd" style="left:920.8px;top:1694.5px;font-size:21px;letter-spacing:0px;line-height:32.69px;font-family:'Liberation Sans',sans-serif;color:#0c0c0c;transform:scaleY(0.93);transform-origin:0 16.34px;">信<br>息<br>技<br>术<svg class="rs" viewBox="0 0 17 14" width="16.0" height="13.0" style="margin-left:1px;vertical-align:0px"><path d="M15,0.8 V7.5 H1.6 M6.8,2.3 L1.6,7.5 L6.8,12.7" stroke="#929292" stroke-width="1.90" fill="none" stroke-linecap="round"/></svg></div>
<div class="t bd" style="left:990.8px;top:1694.5px;font-size:21px;letter-spacing:0px;line-height:32.69px;font-family:'Liberation Sans',sans-serif;color:#0c0c0c;transform:scaleY(0.93);transform-origin:0 16.34px;">体<br>育<br>与<br>健<br>康<svg class="rs" viewBox="0 0 17 14" width="16.0" height="13.0" style="margin-left:1px;vertical-align:0px"><path d="M15,0.8 V7.5 H1.6 M6.8,2.3 L1.6,7.5 L6.8,12.7" stroke="#929292" stroke-width="1.90" fill="none" stroke-linecap="round"/></svg></div>
<div class="t bd" style="left:1062.8px;top:1694.5px;font-size:21px;letter-spacing:0px;line-height:32.69px;font-family:'Liberation Sans',sans-serif;color:#0c0c0c;transform:scaleY(0.93);transform-origin:0 16.34px;">公<svg class="rs" viewBox="0 0 17 14" width="16.0" height="13.0" style="margin-left:1px;vertical-align:0px"><path d="M15,0.8 V7.5 H1.6 M6.8,2.3 L1.6,7.5 L6.8,12.7" stroke="#929292" stroke-width="1.90" fill="none" stroke-linecap="round"/></svg><br>共<svg class="rs" viewBox="0 0 17 14" width="16.0" height="13.0" style="margin-left:1px;vertical-align:0px"><path d="M15,0.8 V7.5 H1.6 M6.8,2.3 L1.6,7.5 L6.8,12.7" stroke="#929292" stroke-width="1.90" fill="none" stroke-linecap="round"/></svg><br>艺<svg class="rs" viewBox="0 0 17 14" width="16.0" height="13.0" style="margin-left:1px;vertical-align:0px"><path d="M15,0.8 V7.5 H1.6 M6.8,2.3 L1.6,7.5 L6.8,12.7" stroke="#929292" stroke-width="1.90" fill="none" stroke-linecap="round"/></svg><br>术<svg class="rs" viewBox="0 0 17 14" width="16.0" height="13.0" style="margin-left:1px;vertical-align:0px"><path d="M15,0.8 V7.5 H1.6 M6.8,2.3 L1.6,7.5 L6.8,12.7" stroke="#929292" stroke-width="1.90" fill="none" stroke-linecap="round"/></svg></div>
<div class="t bd" style="left:1147.8px;top:1694.5px;font-size:21px;letter-spacing:0px;line-height:32.69px;font-family:'Liberation Sans',sans-serif;color:#0c0c0c;transform:scaleY(0.93);transform-origin:0 16.34px;">历<svg class="rs" viewBox="0 0 17 14" width="16.0" height="13.0" style="margin-left:1px;vertical-align:0px"><path d="M15,0.8 V7.5 H1.6 M6.8,2.3 L1.6,7.5 L6.8,12.7" stroke="#929292" stroke-width="1.90" fill="none" stroke-linecap="round"/></svg><br>史<svg class="rs" viewBox="0 0 17 14" width="16.0" height="13.0" style="margin-left:1px;vertical-align:0px"><path d="M15,0.8 V7.5 H1.6 M6.8,2.3 L1.6,7.5 L6.8,12.7" stroke="#929292" stroke-width="1.90" fill="none" stroke-linecap="round"/></svg></div>
<div class="t" style="left:720.6px;top:2001.2px;font-size:37.33px;letter-spacing:-0.2px;line-height:41.02px;font-family:'Liberation Serif',serif;color:#0c0c0c;transform:scaleY(0.91);transform-origin:0 20.51px;">课程体系框图</div>
<div class="t" style="left:884px;top:2087.5px;font-size:24px;line-height:24px;font-family:'Liberation Serif',serif;color:#111">4</div>
</body></html>
